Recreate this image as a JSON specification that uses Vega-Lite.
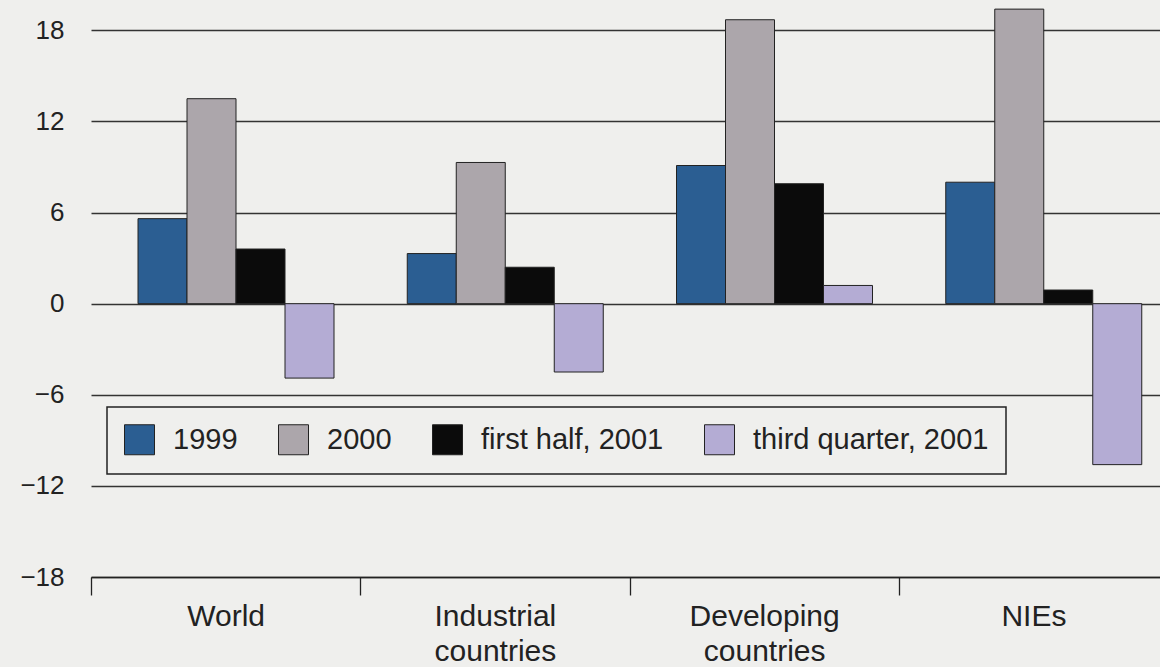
{
  "$schema": "https://vega.github.io/schema/vega-lite/v6.json",
  "autosize": {"type": "none"},
  "padding": {"left": 91, "top": 0, "right": 0, "bottom": 90},
  "width": 1069,
  "height": 577,
  "background": "#efefed",
  "config": {
    "view": {"stroke": null},
    "font": "Liberation Sans"
  },
  "data": {
    "values": [
      {"region": "World", "period": "1999", "value": 5.6},
      {"region": "World", "period": "2000", "value": 13.5},
      {"region": "World", "period": "first half, 2001", "value": 3.6},
      {"region": "World", "period": "third quarter, 2001", "value": -4.9},
      {"region": "Industrial countries", "period": "1999", "value": 3.3},
      {"region": "Industrial countries", "period": "2000", "value": 9.3},
      {"region": "Industrial countries", "period": "first half, 2001", "value": 2.4},
      {"region": "Industrial countries", "period": "third quarter, 2001", "value": -4.5},
      {"region": "Developing countries", "period": "1999", "value": 9.1},
      {"region": "Developing countries", "period": "2000", "value": 18.7},
      {"region": "Developing countries", "period": "first half, 2001", "value": 7.9},
      {"region": "Developing countries", "period": "third quarter, 2001", "value": 1.2},
      {"region": "NIEs", "period": "1999", "value": 8.0},
      {"region": "NIEs", "period": "2000", "value": 19.4},
      {"region": "NIEs", "period": "first half, 2001", "value": 0.9},
      {"region": "NIEs", "period": "third quarter, 2001", "value": -10.6}
    ]
  },
  "mark": {"type": "bar", "stroke": "#222222", "strokeWidth": 1},
  "encoding": {
    "x": {
      "field": "region",
      "type": "nominal",
      "sort": ["World", "Industrial countries", "Developing countries", "NIEs"],
      "scale": {"range": [0, 1077], "paddingInner": 0, "paddingOuter": 0},
      "axis": {
        "title": null,
        "labelAngle": 0,
        "labelExpr": "split(datum.label, ' ')",
        "labelFontSize": 30,
        "labelColor": "#222222",
        "labelLineHeight": 35,
        "labelPadding": 6,
        "tickBand": "extent",
        "tickSize": 18,
        "tickColor": "#222222",
        "tickWidth": 1.3,
        "domainColor": "#222222",
        "domainWidth": 1.3,
        "grid": false
      }
    },
    "xOffset": {
      "field": "period",
      "type": "nominal",
      "scale": {"range": [47, 243], "paddingInner": 0, "paddingOuter": 0}
    },
    "y": {
      "field": "value",
      "type": "quantitative",
      "scale": {"domain": [-18, 20], "nice": false, "zero": false},
      "axis": {
        "title": null,
        "values": [-18, -12, -6, 0, 6, 12, 18],
        "domain": false,
        "ticks": false,
        "labelFontSize": 26,
        "labelColor": "#222222",
        "labelPadding": 27,
        "grid": true,
        "gridColor": "#333333",
        "gridWidth": 1.3,
        "gridOpacity": 1
      }
    },
    "color": {
      "field": "period",
      "type": "nominal",
      "scale": {
        "domain": ["1999", "2000", "first half, 2001", "third quarter, 2001"],
        "range": ["#2b5e92", "#aca6ab", "#0b0b0b", "#b4acd4"]
      },
      "legend": {
        "title": null,
        "orient": "none",
        "direction": "horizontal",
        "legendX": 16,
        "legendY": 407,
        "symbolType": "square",
        "symbolSize": 900,
        "symbolStrokeColor": "#222222",
        "symbolStrokeWidth": 1,
        "symbolOpacity": 1,
        "labelFontSize": 29,
        "labelLimit": 0,
        "labelColor": "#222222",
        "labelOffset": 18,
        "columnPadding": 38,
        "padding": 17,
        "strokeColor": "#222222",
        "fillColor": "#efefed",
        "encode": {"legend": {"update": {"strokeWidth": {"value": 1.5}}}}
      }
    }
  }
}
